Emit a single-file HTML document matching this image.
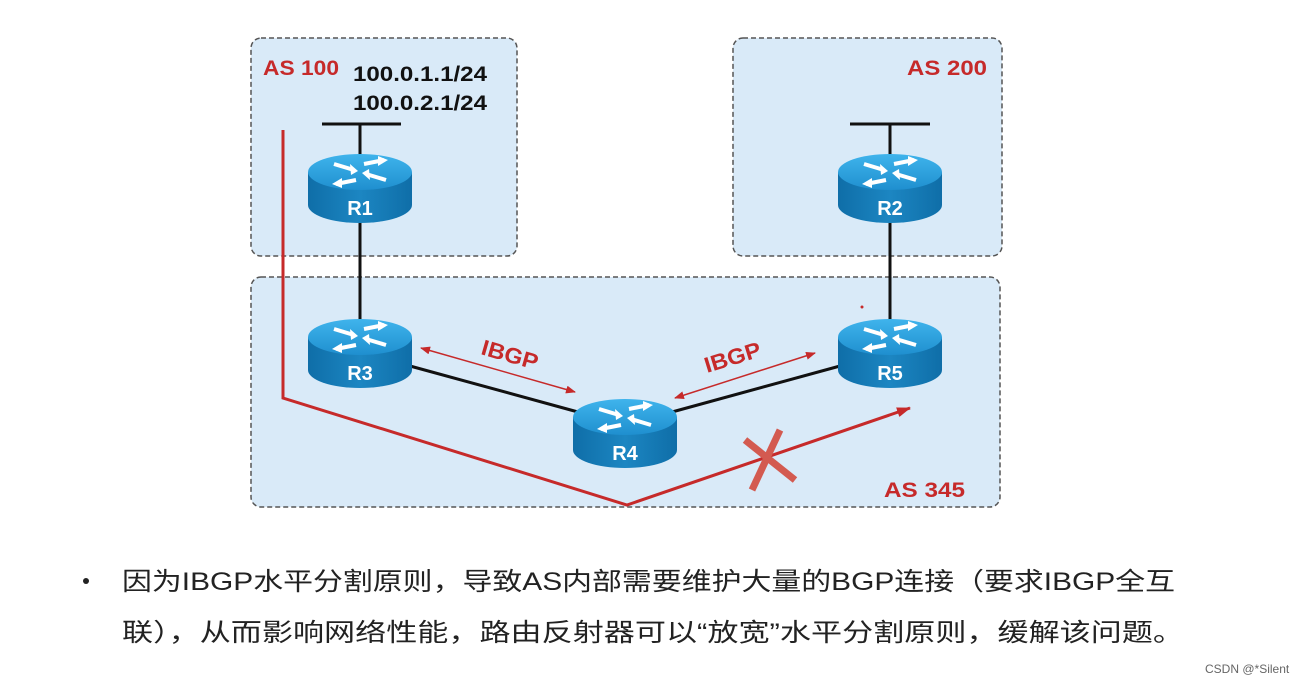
<!DOCTYPE html>
<html><head><meta charset="utf-8"><style>
html,body{margin:0;padding:0;background:#fff;}
svg{display:block}
</style></head><body>
<svg width="1309" height="683" xmlns="http://www.w3.org/2000/svg">
<defs>
<linearGradient id="top" x1="0" y1="0" x2="0" y2="1"><stop offset="0" stop-color="#3fb4ec"/><stop offset="1" stop-color="#1f8fcf"/></linearGradient>
<linearGradient id="body" x1="0" y1="0" x2="1" y2="0"><stop offset="0" stop-color="#0f6ea8"/><stop offset="0.5" stop-color="#1c86c2"/><stop offset="1" stop-color="#0f6ea8"/></linearGradient>
<marker id="ar" markerWidth="10" markerHeight="8" refX="9" refY="4" orient="auto" markerUnits="userSpaceOnUse"><path d="M0,0 L10,4 L0,8 z" fill="#c62a2a"/></marker>
<marker id="al" markerWidth="10" markerHeight="8" refX="1" refY="4" orient="auto" markerUnits="userSpaceOnUse"><path d="M10,0 L0,4 L10,8 z" fill="#c62a2a"/></marker>
<marker id="ab" markerWidth="14" markerHeight="10" refX="13" refY="5" orient="auto" markerUnits="userSpaceOnUse"><path d="M0,0 L14,5 L0,10 z" fill="#c62a2a"/></marker>
<g id="rt">
<path d="M-52,0 L-52,33 A52,18 0 0 0 52,33 L52,0 Z" fill="url(#body)"/>
<ellipse cx="0" cy="0" rx="52" ry="18" fill="url(#top)"/>
<g stroke="#fff" stroke-width="4" fill="none">
<path d="M-26,-8 L-6,-2"/><path d="M26,8 L6,2"/><path d="M-4,8 L-24,12"/><path d="M4,-8 L24,-12"/>
</g>
<g fill="#fff">
<path d="M-2,-1 L-10,-8 L-9,3 Z"/><path d="M2,1 L10,8 L9,-3 Z"/><path d="M-28,12 L-18,6 L-18,16 Z"/><path d="M28,-12 L18,-6 L18,-16 Z"/>
</g>
</g>
</defs>
<rect width="1309" height="683" fill="#fff"/>
<g fill="#d9eaf8" stroke="#555" stroke-width="1.5" stroke-dasharray="5,3">
<rect x="251" y="38" width="266" height="218" rx="10"/>
<rect x="733" y="38" width="269" height="218" rx="10"/>
<rect x="251" y="277" width="749" height="230" rx="10"/>
</g>
<g font-family="Liberation Sans, sans-serif" font-weight="bold" font-size="21" lengthAdjust="spacingAndGlyphs">
<text x="263" y="75" fill="#c62a2a" textLength="76" lengthAdjust="spacingAndGlyphs">AS 100</text>
<text x="907" y="75" fill="#c62a2a" textLength="80" lengthAdjust="spacingAndGlyphs">AS 200</text>
<text x="884" y="497" fill="#c62a2a" textLength="81" lengthAdjust="spacingAndGlyphs">AS 345</text>
<text x="353" y="81" fill="#111" textLength="134" lengthAdjust="spacingAndGlyphs">100.0.1.1/24</text>
<text x="353" y="110" fill="#111" textLength="134" lengthAdjust="spacingAndGlyphs">100.0.2.1/24</text>
</g>
<g stroke="#111" stroke-width="3">
<line x1="322" y1="124" x2="401" y2="124"/><line x1="360" y1="124" x2="360" y2="320"/>
<line x1="850" y1="124" x2="930" y2="124"/><line x1="890" y1="124" x2="890" y2="320"/>
<line x1="410" y1="366" x2="578" y2="412"/><line x1="672" y1="412" x2="840" y2="366"/>
</g>
<g stroke="#c62a2a" stroke-width="1.5">
<line x1="421" y1="348" x2="575" y2="392" marker-start="url(#al)" marker-end="url(#ar)"/>
<line x1="675" y1="398" x2="815" y2="353" marker-start="url(#al)" marker-end="url(#ar)"/>
</g>
<g font-family="Liberation Sans, sans-serif" font-weight="bold" font-size="22" fill="#c62a2a">
<text x="480" y="354" transform="rotate(16 480 354)" textLength="58" lengthAdjust="spacingAndGlyphs">IBGP</text>
<text x="707" y="373" transform="rotate(-17 707 373)" textLength="58" lengthAdjust="spacingAndGlyphs">IBGP</text>
</g>
<use href="#rt" x="360" y="172"/>
<use href="#rt" x="890" y="172"/>
<use href="#rt" x="360" y="337"/>
<use href="#rt" x="625" y="417"/>
<use href="#rt" x="890" y="337"/>
<g font-family="Liberation Sans, sans-serif" font-weight="bold" font-size="20" fill="#fff" text-anchor="middle">
<text x="360" y="215">R1</text><text x="890" y="215">R2</text>
<text x="360" y="380">R3</text><text x="625" y="460">R4</text><text x="890" y="380">R5</text>
</g>
<polyline points="283,130 283,398 627,505 910,408" fill="none" stroke="#c62a2a" stroke-width="3" marker-end="url(#ab)"/>
<g stroke="#d35a50" stroke-width="7">
<line x1="745" y1="440" x2="795" y2="480"/><line x1="780" y1="430" x2="752" y2="490"/>
</g>
<circle cx="862" cy="307" r="1.5" fill="#c62a2a"/>
<circle cx="86" cy="581" r="3" fill="#222"/>
<g font-family="Liberation Sans, Noto Sans CJK SC, sans-serif" font-size="25" fill="#222">
<text x="122" y="590" textLength="1053" lengthAdjust="spacingAndGlyphs">因为IBGP水平分割原则，导致AS内部需要维护大量的BGP连接（要求IBGP全互</text>
<text x="122" y="641" textLength="1062" lengthAdjust="spacingAndGlyphs">联），从而影响网络性能，路由反射器可以“放宽”水平分割原则，缓解该问题。</text>
</g>
<text x="1205" y="673" font-family="Liberation Sans, Noto Sans CJK SC, sans-serif" font-size="12" fill="#666">CSDN @*Silent</text>
</svg>
</body></html>
